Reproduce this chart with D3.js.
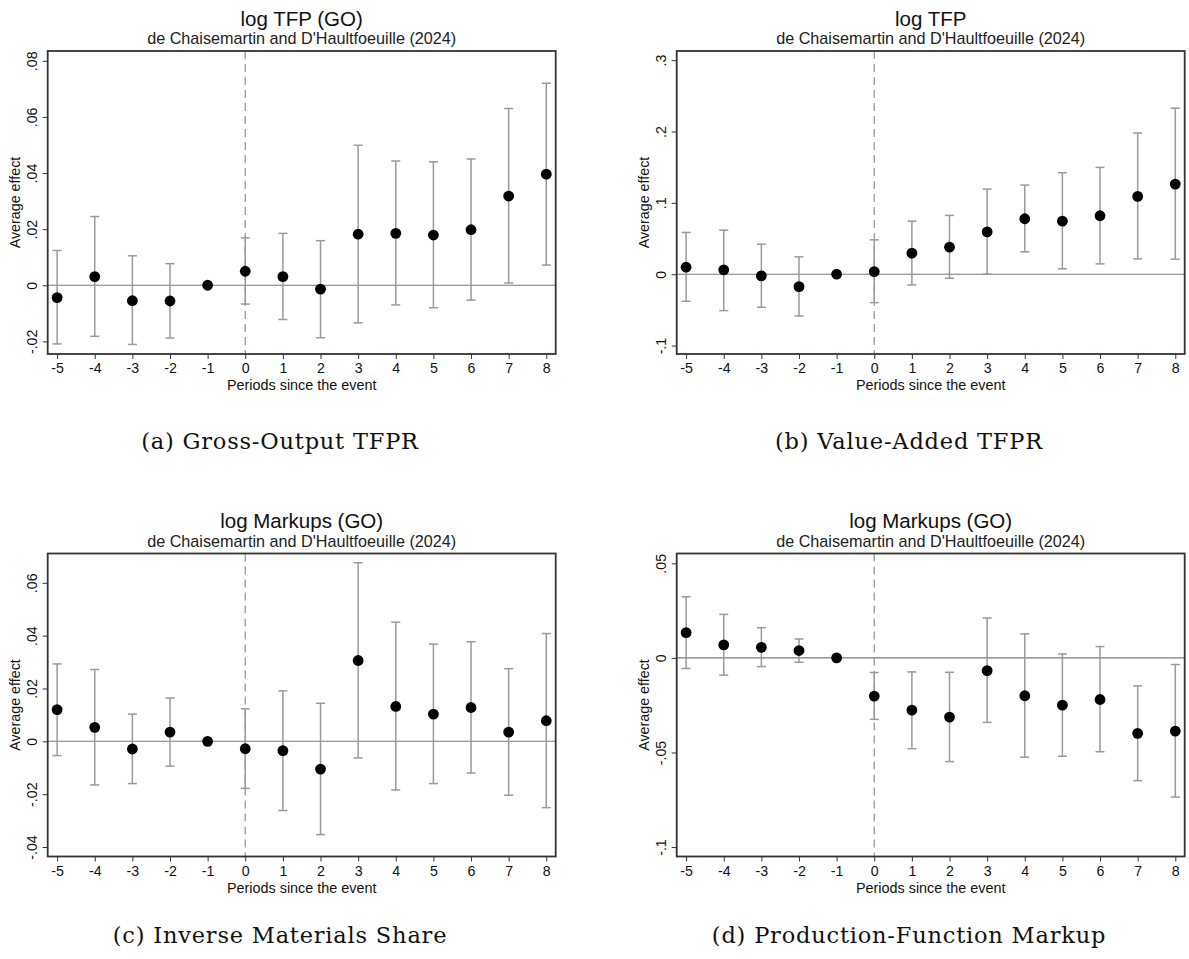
<!DOCTYPE html>
<html>
<head>
<meta charset="utf-8">
<script src="https://cdn.jsdelivr.net/npm/d3@7"></script>
<style>
  html, body { margin: 0; padding: 0; background: #fff; }
  svg { display: block; }
</style>
</head>
<body>
<svg id="chart" width="1189" height="959"></svg>
<script>
// Event-study periods
const periods = [-5, -4, -3, -2, -1, 0, 1, 2, 3, 4, 5, 6, 7, 8];

// (a) log TFP (GO)
const tfpGoEst = [-0.0044, 0.0031, -0.0055, -0.0056, 0, 0.0050, 0.0031, -0.0014, 0.0182, 0.0185, 0.0179, 0.0198, 0.0318, 0.0396];
const tfpGoLo  = [-0.0209, -0.0182, -0.0211, -0.0188, 0, -0.0067, -0.0122, -0.0187, -0.0134, -0.0070, -0.0080, -0.0053, 0.0008, 0.0072];
const tfpGoHi  = [0.0124, 0.0245, 0.0105, 0.0077, 0, 0.0169, 0.0185, 0.0159, 0.0499, 0.0443, 0.0440, 0.0450, 0.0630, 0.0720];
const tfpGoTicks = [-0.02, 0, 0.02, 0.04, 0.06, 0.08];
const tfpGoTickLabels = ["-.02", "0", ".02", ".04", ".06", ".08"];

// (b) log TFP
const tfpVaEst = [0.0098, 0.0061, -0.0023, -0.0173, 0, 0.0037, 0.0295, 0.0379, 0.0594, 0.0777, 0.0744, 0.0819, 0.1090, 0.1263];
const tfpVaLo  = [-0.0379, -0.0510, -0.0463, -0.0585, 0, -0.0398, -0.0150, -0.0056, 0.0000, 0.0314, 0.0075, 0.0145, 0.0215, 0.0211];
const tfpVaHi  = [0.0585, 0.0618, 0.0421, 0.0243, 0, 0.0482, 0.0744, 0.0824, 0.1193, 0.1249, 0.1423, 0.1497, 0.1979, 0.2326];
const tfpVaTicks = [-0.1, 0, 0.1, 0.2, 0.3];
const tfpVaTickLabels = ["-.1", "0", ".1", ".2", ".3"];

// (c) log Markups (GO), inverse materials share
const mkImsEst = [0.0120, 0.0053, -0.0029, 0.0035, 0, -0.0028, -0.0035, -0.0105, 0.0306, 0.0132, 0.0103, 0.0128, 0.0035, 0.0078];
const mkImsLo  = [-0.0054, -0.0165, -0.0160, -0.0094, 0, -0.0178, -0.0262, -0.0353, -0.0063, -0.0184, -0.0160, -0.0120, -0.0204, -0.0251];
const mkImsHi  = [0.0293, 0.0272, 0.0103, 0.0164, 0, 0.0123, 0.0191, 0.0144, 0.0676, 0.0451, 0.0368, 0.0377, 0.0275, 0.0408];
const mkImsTicks = [-0.04, -0.02, 0, 0.02, 0.04, 0.06];
const mkImsTickLabels = ["-.04", "-.02", "0", ".02", ".04", ".06"];

// (d) log Markups (GO), production-function markup
const mkPfEst = [0.0134, 0.0069, 0.0056, 0.0039, 0, -0.0202, -0.0276, -0.0313, -0.0067, -0.0200, -0.0250, -0.0220, -0.0399, -0.0387];
const mkPfLo  = [-0.0056, -0.0091, -0.0046, -0.0023, 0, -0.0325, -0.0480, -0.0548, -0.0341, -0.0525, -0.0520, -0.0496, -0.0649, -0.0736];
const mkPfHi  = [0.0323, 0.0230, 0.0160, 0.0100, 0, -0.0077, -0.0074, -0.0076, 0.0211, 0.0127, 0.0021, 0.0060, -0.0148, -0.0035];
const mkPfTicks = [-0.1, -0.05, 0, 0.05];
const mkPfTickLabels = ["-.1", "-.05", "0", ".05"];

const titles = ["log TFP (GO)", "log TFP", "log Markups (GO)", "log Markups (GO)"];
const subtitle = "de Chaisemartin and D'Haultfoeuille (2024)";
const captions = ["(a) Gross-Output TFPR", "(b) Value-Added TFPR", "(c) Inverse Materials Share", "(d) Production-Function Markup"];

const panels = [
  { est: tfpGoEst, lo: tfpGoLo, hi: tfpGoHi, ticks: tfpGoTicks, labels: tfpGoTickLabels, domain: [-0.0245, 0.0835], ox: 0,   oy: 0,     capY: 448.5 },
  { est: tfpVaEst, lo: tfpVaLo, hi: tfpVaHi, ticks: tfpVaTicks, labels: tfpVaTickLabels, domain: [-0.1118, 0.3128], ox: 629, oy: 0,     capY: 448.5 },
  { est: mkImsEst, lo: mkImsLo, hi: mkImsHi, ticks: mkImsTicks, labels: mkImsTickLabels, domain: [-0.0436, 0.0711], ox: 0,   oy: 502.5, capY: 440 },
  { est: mkPfEst,  lo: mkPfLo,  hi: mkPfHi,  ticks: mkPfTicks,  labels: mkPfTickLabels,  domain: [-0.1050, 0.0552], ox: 629, oy: 502.5, capY: 440 }
];

const svg = d3.select("#chart");
const sans = "'Liberation Sans', Arial, sans-serif";
const serif = "'DejaVu Serif', 'Liberation Serif', serif";

// plot frame within each panel
const frame = { left: 47.7, right: 555.7, top: 51, bottom: 354 };

panels.forEach((p, i) => {
  const g = svg.append("g").attr("transform", `translate(${p.ox},${p.oy})`);

  const x = d3.scaleLinear().domain([-5.25, 8.25]).range([frame.left, frame.right]);
  const y = d3.scaleLinear().domain(p.domain).range([frame.bottom, frame.top]);
  const cx = (frame.left + frame.right) / 2;

  // titles
  g.append("text").attr("x", cx).attr("y", 25.5).attr("text-anchor", "middle")
    .attr("font-family", sans).attr("font-size", 20.5).attr("fill", "#111").text(titles[i]);
  g.append("text").attr("x", cx).attr("y", 44).attr("text-anchor", "middle")
    .attr("font-family", sans).attr("font-size", 16.2).attr("fill", "#222").text(subtitle);

  // zero line
  g.append("line").attr("x1", frame.left).attr("x2", frame.right)
    .attr("y1", y(0)).attr("y2", y(0)).attr("stroke", "#7a7a7a").attr("stroke-width", 1.1);

  // event line at period 0
  g.append("line").attr("x1", x(0)).attr("x2", x(0))
    .attr("y1", frame.top).attr("y2", frame.bottom)
    .attr("stroke", "#999").attr("stroke-width", 1.3).attr("stroke-dasharray", "8,5");

  // confidence intervals
  const ci = g.append("g").attr("stroke", "#9a9a9a").attr("stroke-width", 1.5).attr("fill", "none");
  periods.forEach((t, k) => {
    if (p.lo[k] === p.hi[k]) return;
    ci.append("line").attr("x1", x(t)).attr("x2", x(t)).attr("y1", y(p.lo[k])).attr("y2", y(p.hi[k]));
    ci.append("line").attr("x1", x(t) - 4.5).attr("x2", x(t) + 4.5).attr("y1", y(p.lo[k])).attr("y2", y(p.lo[k]));
    ci.append("line").attr("x1", x(t) - 4.5).attr("x2", x(t) + 4.5).attr("y1", y(p.hi[k])).attr("y2", y(p.hi[k]));
  });

  // point estimates
  g.append("g").selectAll("circle").data(periods).join("circle")
    .attr("cx", t => x(t)).attr("cy", (t, k) => y(p.est[k])).attr("r", 5.4).attr("fill", "#000");

  // frame
  g.append("rect").attr("x", frame.left).attr("y", frame.top)
    .attr("width", frame.right - frame.left).attr("height", frame.bottom - frame.top)
    .attr("fill", "none").attr("stroke", "#333").attr("stroke-width", 1.8);

  // x axis
  const xAxis = d3.axisBottom(x).tickValues(periods).tickSize(5).tickPadding(4).tickFormat(d3.format("d"));
  const xg = g.append("g").attr("transform", `translate(0,${frame.bottom})`).call(xAxis);
  xg.select(".domain").remove();
  xg.selectAll(".tick line").attr("stroke", "#333").attr("stroke-width", 1);
  xg.selectAll(".tick text").attr("font-family", sans).attr("font-size", 14.2).attr("fill", "#111")
    .text(d => d < 0 ? "-" + Math.abs(d) : d);

  // y axis with rotated labels
  const yAxis = d3.axisLeft(y).tickValues(p.ticks).tickSize(5).tickFormat((d, k) => p.labels[k]);
  const yg = g.append("g").attr("transform", `translate(${frame.left},0)`).call(yAxis);
  yg.select(".domain").remove();
  yg.selectAll(".tick line").attr("stroke", "#333").attr("stroke-width", 1);
  yg.selectAll(".tick text").attr("font-family", sans).attr("font-size", 14.2).attr("fill", "#111")
    .attr("x", null).attr("dy", null)
    .attr("text-anchor", "middle")
    .attr("transform", "translate(-11,0) rotate(-90)");

  // axis titles
  g.append("text").attr("x", cx).attr("y", 390).attr("text-anchor", "middle")
    .attr("font-family", sans).attr("font-size", 14.4).attr("fill", "#111").text("Periods since the event");
  g.append("text").attr("transform", `translate(20,${(frame.top + frame.bottom) / 2}) rotate(-90)`)
    .attr("text-anchor", "middle").attr("font-family", sans).attr("font-size", 14.3).attr("fill", "#111")
    .text("Average effect");

  // caption
  g.append("text").attr("x", 280).attr("y", p.capY).attr("text-anchor", "middle")
    .attr("font-family", serif).attr("font-size", 22.5).attr("letter-spacing", 0.8)
    .attr("fill", "#111").text(captions[i]);
});
</script>
</body>
</html>
